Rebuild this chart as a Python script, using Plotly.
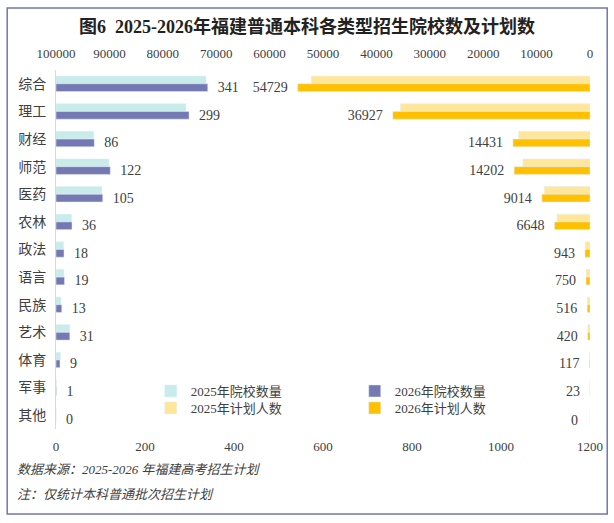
import plotly.graph_objects as go

categories = ["综合", "理工", "财经", "师范", "医药", "农林", "政法", "语言", "民族", "艺术", "体育", "军事", "其他"]

schools_2025 = [337, 292, 85, 119, 103, 35, 17, 18, 11, 31, 10, 1, 0]
schools_2026 = [341, 299, 86, 122, 105, 36, 18, 19, 13, 31, 9, 1, 0]

plan_2025 = [52200, 35500, 13400, 12550, 8560, 6180, 900, 700, 480, 400, 100, 20, 0]
plan_2026 = [54729, 36927, 14431, 14202, 9014, 6648, 943, 750, 516, 420, 117, 23, 0]

FONT = "Liberation Serif, Noto Sans CJK SC, serif"
TXT = "#404040"
BW = 0.28

fig = go.Figure()

fig.add_trace(go.Bar(
    y=categories, x=schools_2025, orientation="h", name="2025年院校数量",
    marker_color="#c7ecea", width=BW, offset=-BW, legend="legend",
))
fig.add_trace(go.Bar(
    y=categories, x=schools_2026, orientation="h", name="2026年院校数量",
    marker_color="#7579b3", width=BW, offset=0, legend="legend",
    texttemplate="\u00a0\u00a0%{x}", textposition="outside", cliponaxis=False,
    constraintext="none", textfont=dict(size=14, color=TXT, family=FONT),
))
fig.add_trace(go.Bar(
    y=categories, x=plan_2025, orientation="h", name="2025年计划人数",
    marker_color="#ffe699", width=BW, offset=-BW, xaxis="x2", legend="legend2",
))
# zero-length bars would put their label on the wrong side, label those separately
plan_pos = ["outside" if v > 0 else "none" for v in plan_2026]
fig.add_trace(go.Bar(
    y=categories, x=plan_2026, orientation="h", name="2026年计划人数",
    marker_color="#ffc000", width=BW, offset=0, xaxis="x2", legend="legend2",
    texttemplate="%{x}\u00a0\u00a0", textposition=plan_pos, cliponaxis=False,
    constraintext="none", textfont=dict(size=14, color=TXT, family=FONT),
))

zero_labels = [
    dict(text=str(v), xref="x2", yref="y", x=v, y=c, yshift=-5, xshift=-10,
         xanchor="right", yanchor="middle", showarrow=False,
         font=dict(size=14, color=TXT, family=FONT))
    for c, v in zip(categories, plan_2026) if v == 0
]

# plot area: x 56..590, y 70..429 (558 x 359 px)
legend_style = dict(
    orientation="h", xanchor="left", yanchor="middle", x=(155 - 56) / 558,
    entrywidth=159, entrywidthmode="pixels", itemwidth=30,
    bgcolor="rgba(0,0,0,0)", font=dict(size=13, color=TXT, family=FONT),
)

fig.update_layout(
    width=614, height=523,
    barmode="overlay",
    plot_bgcolor="white", paper_bgcolor="white",
    margin=dict(l=56, r=24, t=70, b=94),
    font=dict(family=FONT, color=TXT, size=13),
    title=dict(
        text="<b>图6  2025-2026年福建普通本科各类型招生院校数及计划数</b>",
        x=0.5, xanchor="center", y=0.948, yanchor="middle",
        font=dict(size=18, color="#222222", family=FONT),
    ),
    xaxis=dict(
        range=[0, 1200], dtick=200, showgrid=False, zeroline=False,
        showline=False, ticks="", ticklabelstandoff=8,
        tickfont=dict(size=13, color=TXT),
    ),
    xaxis2=dict(
        overlaying="x", side="top", range=[100000, 0], dtick=10000,
        tickformat="d", showgrid=False, zeroline=False, showline=False, ticks="",
        ticklabelstandoff=8, tickfont=dict(size=13, color=TXT),
    ),
    yaxis=dict(
        autorange="reversed", showgrid=False, zeroline=False,
        showline=True, linecolor="#d9d9d9", linewidth=1, ticks="",
        ticklabelstandoff=6, tickfont=dict(size=14, color=TXT),
    ),
    legend=dict(legend_style, y=(429 - 391) / 359),
    legend2=dict(legend_style, y=(429 - 408) / 359),
    shapes=[dict(
        type="rect", xref="paper", yref="paper",
        x0=-51 / 558, x1=1 + 18 / 558, y0=-(514 - 429) / 359, y1=1 + 62 / 359,
        line=dict(color="#7075b5", width=1.5), layer="below",
    )],
    annotations=zero_labels + [
        dict(text="<i>数据来源：2025-2026 年福建高考招生计划</i>", xref="paper", yref="paper",
             x=-43 / 558, y=-(469 - 429) / 359, xanchor="left", yanchor="middle",
             showarrow=False, font=dict(size=13, color=TXT, family=FONT)),
        dict(text="<i>注：仅统计本科普通批次招生计划</i>", xref="paper", yref="paper",
             x=-43 / 558, y=-(494 - 429) / 359, xanchor="left", yanchor="middle",
             showarrow=False, font=dict(size=13, color=TXT, family=FONT)),
    ],
)

fig.write_html("out.html", config={"displayModeBar": False},
               post_script="document.body.style.margin='0';")
